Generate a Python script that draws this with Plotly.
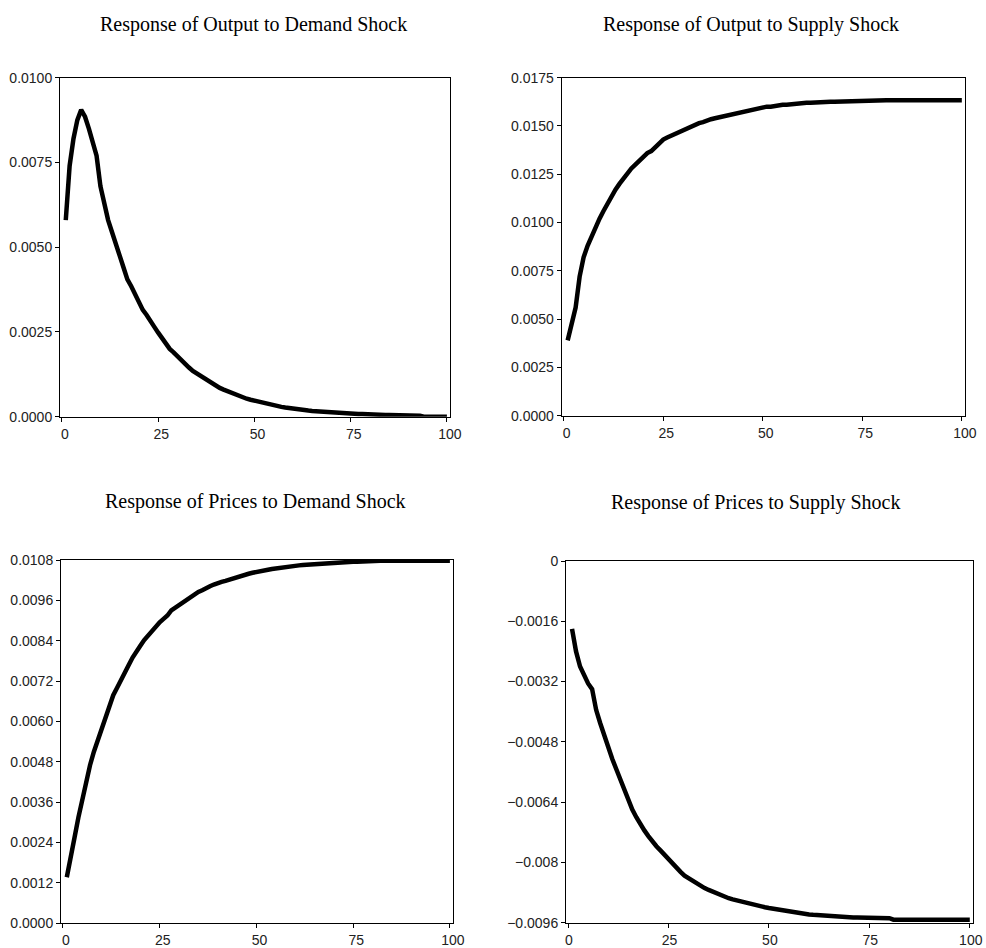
import plotly.graph_objects as go

periods = list(range(1, 101))

output_demand = [
    0.00580, 0.00740, 0.00820, 0.00875, 0.00905, 0.00885, 0.00850, 0.00810, 0.00770, 0.00680,
    0.00625, 0.00580, 0.00545, 0.00505, 0.00475, 0.00440, 0.00405, 0.00385, 0.00360, 0.00335,
    0.00315, 0.00300, 0.00285, 0.00265, 0.00248, 0.00230, 0.00215, 0.00200, 0.00190, 0.00178,
    0.00166, 0.00155, 0.00145, 0.00135, 0.00128, 0.00120, 0.00112, 0.00105, 0.00098, 0.00090,
    0.00085, 0.00080, 0.00075, 0.00070, 0.00065, 0.00061, 0.00057, 0.00053, 0.00050, 0.00047,
    0.00044, 0.00041, 0.00038, 0.00036, 0.00033, 0.00031, 0.00029, 0.00027, 0.00025, 0.00023,
    0.00022, 0.00020, 0.00019, 0.00018, 0.00017, 0.00016, 0.00015, 0.00014, 0.00013, 0.00012,
    0.00011, 0.00011, 0.00010, 0.00010, 0.00009, 0.00009, 0.00008, 0.00008, 0.00007, 0.00007,
    0.00006, 0.00006, 0.00006, 0.00005, 0.00005, 0.00005, 0.00005, 0.00004, 0.00004, 0.00004,
    0.00004, 0.00003, 0.00003, 0.00000, 0.00000, 0.00000, 0.00000, 0.00000, 0.00000, 0.00000,
]

output_supply = [
    0.00390, 0.00480, 0.00560, 0.00720, 0.00820, 0.00880, 0.00930, 0.00980, 0.01020, 0.01060,
    0.01100, 0.01130, 0.01170, 0.01200, 0.01230, 0.01260, 0.01280, 0.01300, 0.01320, 0.01340,
    0.01360, 0.01370, 0.01390, 0.01410, 0.01430, 0.01440, 0.01450, 0.01460, 0.01470, 0.01480,
    0.01490, 0.01500, 0.01510, 0.01515, 0.01520, 0.01530, 0.01535, 0.01540, 0.01545, 0.01550,
    0.01555, 0.01560, 0.01565, 0.01570, 0.01575, 0.01580, 0.01583, 0.01586, 0.01590, 0.01595,
    0.01600, 0.01600, 0.01605, 0.01608, 0.01610, 0.01610, 0.01613, 0.01615, 0.01617, 0.01620,
    0.01620, 0.01620, 0.01620, 0.01622, 0.01625, 0.01625, 0.01625, 0.01626, 0.01627, 0.01627,
    0.01628, 0.01628, 0.01629, 0.01629, 0.01630, 0.01633, 0.01633, 0.01633, 0.01633, 0.01633,
    0.01633, 0.01633, 0.01633, 0.01633, 0.01633, 0.01633, 0.01633, 0.01633, 0.01633, 0.01633,
    0.01633, 0.01633, 0.01633, 0.01633, 0.01633, 0.01633, 0.01633, 0.01633, 0.01633, 0.01633,
]

prices_demand = [
    0.00137, 0.00205, 0.00255, 0.00315, 0.00370, 0.00420, 0.00470, 0.00510, 0.00545, 0.00580,
    0.00615, 0.00650, 0.00678, 0.00700, 0.00725, 0.00748, 0.00768, 0.00790, 0.00810, 0.00825,
    0.00842, 0.00856, 0.00870, 0.00882, 0.00895, 0.00905, 0.00915, 0.00930, 0.00938, 0.00946,
    0.00955, 0.00965, 0.00972, 0.00978, 0.00985, 0.00990, 0.00997, 0.01002, 0.01007, 0.01012,
    0.01015, 0.01018, 0.01022, 0.01026, 0.01030, 0.01033, 0.01036, 0.01039, 0.01042, 0.01045,
    0.01047, 0.01049, 0.01051, 0.01053, 0.01055, 0.01057, 0.01058, 0.01060, 0.01061, 0.01062,
    0.01064, 0.01065, 0.01066, 0.01067, 0.01068, 0.01068, 0.01069, 0.01070, 0.01071, 0.01072,
    0.01073, 0.01073, 0.01074, 0.01074, 0.01075, 0.01075, 0.01076, 0.01076, 0.01077, 0.01077,
    0.01078, 0.01078, 0.01078, 0.01078, 0.01078, 0.01078, 0.01078, 0.01078, 0.01078, 0.01078,
    0.01078, 0.01078, 0.01078, 0.01078, 0.01078, 0.01078, 0.01078, 0.01078, 0.01078, 0.01078,
]

prices_supply = [
    -0.00180, -0.00240, -0.00280, -0.00305, -0.00325, -0.00340, -0.00395, -0.00430, -0.00465, -0.00495,
    -0.00525, -0.00552, -0.00580, -0.00610, -0.00635, -0.00660, -0.00680, -0.00700, -0.00715, -0.00730,
    -0.00745, -0.00757, -0.00768, -0.00780, -0.00792, -0.00803, -0.00814, -0.00825, -0.00835, -0.00842,
    -0.00850, -0.00857, -0.00863, -0.00868, -0.00873, -0.00878, -0.00883, -0.00887, -0.00891, -0.00895,
    -0.00898, -0.00901, -0.00904, -0.00907, -0.00910, -0.00912, -0.00915, -0.00917, -0.00919, -0.00921,
    -0.00923, -0.00925, -0.00927, -0.00929, -0.00931, -0.00932, -0.00934, -0.00935, -0.00937, -0.00938,
    -0.00939, -0.00940, -0.00941, -0.00942, -0.00943, -0.00943, -0.00944, -0.00944, -0.00944, -0.00945,
    -0.00946, -0.00946, -0.00946, -0.00947, -0.00947, -0.00947, -0.00948, -0.00948, -0.00948, -0.00948,
    -0.00952, -0.00952, -0.00952, -0.00952, -0.00952, -0.00952, -0.00952, -0.00952, -0.00952, -0.00952,
    -0.00952, -0.00952, -0.00952, -0.00952, -0.00952, -0.00952, -0.00952, -0.00952, -0.00952, -0.00952,
]

titles = [
    "Response of Output to Demand Shock",
    "Response of Output to Supply Shock",
    "Response of Prices to Demand Shock",
    "Response of Prices to Supply Shock",
]

x_ticks = [0, 25, 50, 75, 100]
y_ticks_1 = [0.0, 0.0025, 0.0050, 0.0075, 0.0100]
y_ticks_2 = [0.0, 0.0025, 0.0050, 0.0075, 0.0100, 0.0125, 0.0150, 0.0175]
y_ticks_3 = [0.0, 0.0012, 0.0024, 0.0036, 0.0048, 0.0060, 0.0072, 0.0084, 0.0096, 0.0108]
y_ticks_4 = [-0.0096, -0.008, -0.0064, -0.0048, -0.0032, -0.0016, 0.0]
y_ticktext_4 = ["\u22120.0096", "\u22120.008", "\u22120.0064", "\u22120.0048", "\u22120.0032", "\u22120.0016", "0"]

W, H = 986, 948
# panel boxes in window pixels: (left, right, top, bottom)
boxes = [
    (60, 450, 77.7, 416.7),
    (561.7, 965, 77.7, 415.7),
    (61, 453, 560, 923.3),
    (566, 973, 561, 922.7),
]
title_pos = [(254, 24), (751, 24), (255, 501), (755, 502)]
label_shift = [3, 3, 3, 1]

series = [output_demand, output_supply, prices_demand, prices_supply]
yranges = [[0, 0.0100], [0, 0.0175], [0, 0.0108], [-0.0096, 0]]
yticks = [y_ticks_1, y_ticks_2, y_ticks_3, y_ticks_4]
yticktexts = [
    [f"{v:.4f}" for v in y_ticks_1],
    [f"{v:.4f}" for v in y_ticks_2],
    [f"{v:.4f}" for v in y_ticks_3],
    y_ticktext_4,
]

fig = go.Figure()
layout = dict(
    template="none",
    width=W, height=H,
    margin=dict(l=0, r=0, t=0, b=0, pad=0),
    paper_bgcolor="white", plot_bgcolor="white",
    showlegend=False,
    font=dict(family="Liberation Sans, Arial, sans-serif", size=14, color="#222"),
)
annotations = []
for i in range(4):
    sfx = "" if i == 0 else str(i + 1)
    l, r, t, b = boxes[i]
    fig.add_trace(go.Scatter(
        x=periods, y=series[i], mode="lines",
        line=dict(color="black", width=4.5),
        xaxis="x" + sfx, yaxis="y" + sfx, hoverinfo="skip",
    ))
    layout["xaxis" + sfx] = dict(
        domain=[l / W, r / W], anchor="y" + sfx, automargin=False,
        range=[-0.5, 100.8], tickvals=x_ticks, ticktext=[str(v) for v in x_ticks],
        showgrid=False, zeroline=False, showline=True, linecolor="black", linewidth=1,
        mirror=True, ticks="outside", ticklen=4, tickwidth=1, tickcolor="black",
        ticklabelshift=label_shift[i],
        tickfont=dict(size=14, color="#222"),
    )
    layout["yaxis" + sfx] = dict(
        domain=[1 - b / H, 1 - t / H], anchor="x" + sfx, automargin=False,
        range=yranges[i], tickvals=yticks[i], ticktext=yticktexts[i],
        showgrid=False, zeroline=False, showline=True, linecolor="black", linewidth=1,
        mirror=True, ticks="outside", ticklen=4, tickwidth=1, tickcolor="black",
        tickfont=dict(size=14, color="#222"),
    )
    tx, ty = title_pos[i]
    annotations.append(dict(
        text=titles[i], x=tx / W, y=1 - ty / H, xref="paper", yref="paper",
        xanchor="center", yanchor="middle", showarrow=False,
        font=dict(family="Liberation Serif, Times New Roman, serif", size=20, color="black"),
    ))
layout["annotations"] = annotations
fig.update_layout(**layout)
fig.write_html(
    "out.html",
    config={"displayModeBar": False, "staticPlot": True},
    post_script="document.body.style.margin='0';",
)
